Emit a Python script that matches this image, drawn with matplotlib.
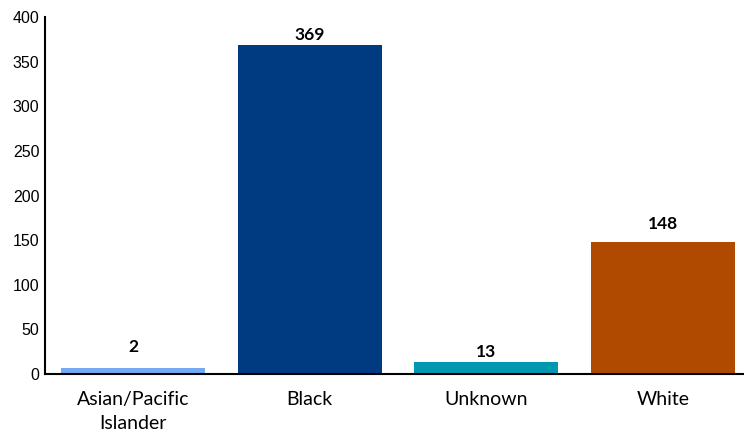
import matplotlib.pyplot as plt

# --- Datos ---
categorias = ['Asian/Pacific\nIslander', 'Black', 'Unknown', 'White']
valores = [2, 369, 13, 148]
colores = ['#74aaf2', '#003a80', '#0097b0', '#b04a00']

# altura minima visible de la barra (la referencia dibuja el 2 un poco mas alto)
altura_min = 7
alturas = [max(v, altura_min) for v in valores]
# separacion de cada etiqueta sobre su barra (puntos), como en la referencia
desplaz = [9, 1.5, 1.5, 7]

fig = plt.figure(figsize=(7.44, 4.32), dpi=100)
ax = fig.add_axes([45 / 744, 58 / 432, 699 / 744, 357 / 432])

x = list(range(len(categorias)))
barras = ax.bar(x, alturas, width=0.815, color=colores)

for b, v, d in zip(barras, valores, desplaz):
    ax.annotate(str(v), (b.get_x() + b.get_width() / 2, b.get_height()),
                xytext=(0, d), textcoords='offset points', ha='center', va='bottom',
                fontsize=12.5, fontweight='bold', family='Lato')

ax.set_xlim(-0.5, 3.46)
ax.set_ylim(0, 400)
ax.set_yticks(range(0, 401, 50))
ax.set_xticks(x)
ax.set_xticklabels(categorias, fontsize=14, family='Lato', linespacing=1.55)
for t in ax.get_yticklabels():
    t.set_fontsize(11.5)
    t.set_family('Liberation Sans')

ax.tick_params(axis='both', length=0)
ax.tick_params(axis='x', pad=12)
ax.tick_params(axis='y', pad=4)
ax.spines['top'].set_visible(False)
ax.spines['right'].set_visible(False)
ax.spines['left'].set_linewidth(1.5)
ax.spines['bottom'].set_linewidth(1.5)

plt.savefig('out.png', dpi=100)
